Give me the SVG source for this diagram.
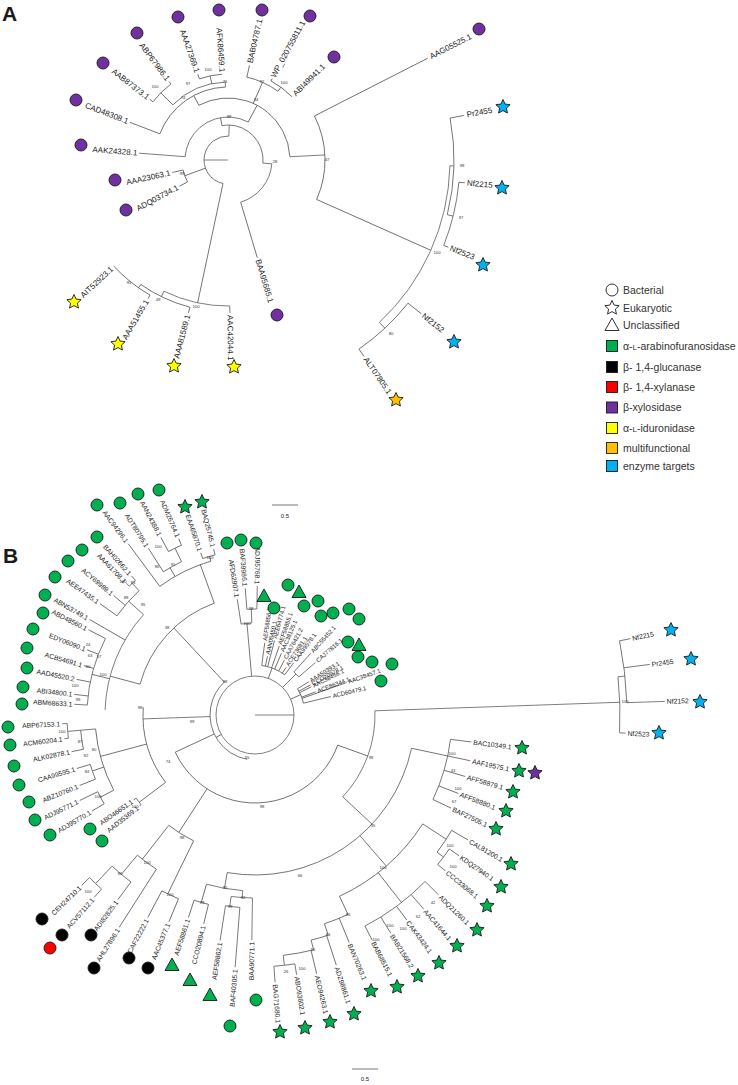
<svg xmlns="http://www.w3.org/2000/svg" width="738" height="1085" viewBox="0 0 738 1085">
<style>
.t{fill:none;stroke:#555;stroke-width:.75}
.t circle{fill:none}
text{font-family:"Liberation Sans",Arial,sans-serif;fill:#1a1a1a}
.lab text{dominant-baseline:central}
.fa{font-size:8px}
.fb{font-size:6.8px}
.fu{font-size:6px}
.e{text-anchor:end}
.bs text{font-size:4.2px;fill:#333;text-anchor:middle}
.s{stroke:#1a1a1a;stroke-width:.9}
.pu{fill:#7030A0}.gr{fill:#00B050}.ye{fill:#FFFF00}.bl{fill:#00B0F0}.or{fill:#FFC000}.rd{fill:#FF0000}.bk{fill:#000}.wh{fill:#fff}
.lg text{font-size:10.5px;fill:#333}
</style>
<defs>
<circle id="c" r="6"/>
<path id="s" d="M0,-7.5 L2.12,-2.91 L7.13,-2.32 L3.42,1.11 L4.41,6.07 L0,3.6 L-4.41,6.07 L-3.42,1.11 L-7.13,-2.32 L-2.12,-2.91Z"/>
<path id="tr" d="M0,-7 L7,5.5 L-7,5.5Z"/>
</defs>
<rect width="738" height="1085" fill="#fff"/>
<text x="2" y="21" font-size="21" font-weight="bold" fill="#000">A</text>
<text x="3" y="563" font-size="21" font-weight="bold" fill="#000">B</text>

<g id="A-connectors" class="t" transform="translate(228 160)">
<line x1="-24" x2="0"/>
<circle r="24" pathLength="360" stroke-dasharray="170 400" transform="rotate(102)"/>
<line x1="24" x2="35" transform="rotate(-88)"/>
<circle r="35" pathLength="360" stroke-dasharray="105 400" transform="rotate(-100)"/>
<line x1="35" x2="43" transform="rotate(-100)"/>
<circle r="43" pathLength="360" stroke-dasharray="113.6 400" transform="rotate(184.4)"/>
<line x1="43" x2="89" transform="rotate(184.4)"/>
<line x1="24" x2="46" transform="rotate(160)"/>
<circle r="46" pathLength="360" stroke-dasharray="15.8 400" transform="rotate(151.6)"/>
<line x1="46" x2="55" transform="rotate(151.6)"/>
<line x1="46" x2="57" transform="rotate(167.4)"/>
<line x1="35" x2="44" transform="rotate(5)"/>
<circle r="44" pathLength="360" stroke-dasharray="68.3 400" transform="rotate(5)"/>
<line x1="44" x2="102" transform="rotate(73.3)"/>
<line x1="43" x2="62" transform="rotate(-62)"/>
<circle r="62" pathLength="360" stroke-dasharray="115 400" transform="rotate(-118)"/>
<line x1="62" x2="97" transform="rotate(-3)"/>
<circle r="97" pathLength="360" stroke-dasharray="51 400" transform="rotate(-27)"/>
<line x1="97" x2="224" transform="rotate(-27)"/>
<line x1="97" x2="222" transform="rotate(24)"/>
<circle r="222" pathLength="360" stroke-dasharray="45.5 400" transform="rotate(1.5)"/>
<line x1="222" x2="226" transform="rotate(1.5)"/>
<circle r="226" pathLength="360" stroke-dasharray="24.7 400" transform="rotate(-10.7)"/>
<line x1="226" x2="240" transform="rotate(-10.7)"/>
<line x1="226" x2="232" transform="rotate(14)"/>
<circle r="232" pathLength="360" stroke-dasharray="16.1 400" transform="rotate(5.5)"/>
<line x1="232" x2="238" transform="rotate(5.5)"/>
<line x1="232" x2="237" transform="rotate(21.6)"/>
<line x1="222" x2="230" transform="rotate(47)"/>
<circle r="230" pathLength="360" stroke-dasharray="16.8 400" transform="rotate(38.5)"/>
<line x1="230" x2="247" transform="rotate(38.5)"/>
<line x1="230" x2="239" transform="rotate(55.3)"/>
<line x1="62" x2="85" transform="rotate(-66)"/>
<circle r="85" pathLength="360" stroke-dasharray="23.2 400" transform="rotate(-77.2)"/>
<line x1="85" x2="97" transform="rotate(-77.2)"/>
<line x1="85" x2="90" transform="rotate(-54)"/>
<circle r="90" pathLength="360" stroke-dasharray="16.9 400" transform="rotate(-61.5)"/>
<line x1="90" x2="92.5" transform="rotate(-61.5)"/>
<line x1="62" x2="73" transform="rotate(-118)"/>
<circle r="73" pathLength="360" stroke-dasharray="67 400" transform="rotate(-159)"/>
<line x1="73" x2="105" transform="rotate(-159)"/>
<line x1="73" x2="78" transform="rotate(-92)"/>
<circle r="78" pathLength="360" stroke-dasharray="43 400" transform="rotate(-135)"/>
<line x1="78" x2="95" transform="rotate(-135)"/>
<circle r="95" pathLength="360" stroke-dasharray="15.3 400" transform="rotate(-142.2)"/>
<line x1="95" x2="99" transform="rotate(-142.2)"/>
<line x1="95" x2="98" transform="rotate(-126.9)"/>
<line x1="78" x2="86" transform="rotate(-102)"/>
<circle r="86" pathLength="360" stroke-dasharray="15.5 400" transform="rotate(-109.4)"/>
<line x1="86" x2="91" transform="rotate(-109.4)"/>
<line x1="24" x2="146" transform="rotate(102)"/>
<circle r="146" pathLength="360" stroke-dasharray="26.7 400" transform="rotate(89.3)"/>
<line x1="146" x2="153" transform="rotate(89.3)"/>
<line x1="146" x2="152" transform="rotate(116)"/>
<circle r="152" pathLength="360" stroke-dasharray="20.5 400" transform="rotate(104.5)"/>
<line x1="152" x2="158" transform="rotate(104.5)"/>
<line x1="152" x2="156" transform="rotate(125)"/>
<circle r="156" pathLength="360" stroke-dasharray="17 400" transform="rotate(120)"/>
<line x1="156" x2="160" transform="rotate(120)"/>
</g>

<g id="A-leaves" class="lab fa" transform="translate(228 160)">
<g id="A-AAG05525"><text transform="rotate(-27) translate(227 0)">AAG05525.1</text><use href="#c" x="251" y="-131" class="s pu"/></g>
<g id="A-BAB04787"><text transform="rotate(-77.2) translate(99.5 0)">BAB04787.1</text><use href="#c" x="34" y="-150" class="s pu"/></g>
<g id="A-WP020755811"><text transform="rotate(-61.5) translate(94.4 0)">WP_020755811.1</text><use href="#c" x="82" y="-144" class="s pu"/></g>
<g id="A-ABI49941"><text transform="rotate(-44.6) translate(93 0)">ABI49941.1</text><use href="#c" x="106" y="-103" class="s pu"/></g>
<g id="A-AFK86459"><text class="e" transform="rotate(-93.9) translate(88 0) rotate(180)">AFK86459.1</text><use href="#c" x="-9" y="-150" class="s pu"/></g>
<g id="A-AAA27369"><text class="e" transform="rotate(-109.4) translate(93 0) rotate(180)">AAA27369.1</text><use href="#c" x="-50" y="-143" class="s pu"/></g>
<g id="A-ABP67986"><text class="e" transform="rotate(-126.9) translate(100 0) rotate(180)">ABP67986.1</text><use href="#c" x="-91" y="-127" class="s pu"/></g>
<g id="A-AAB87373"><text class="e" transform="rotate(-142.2) translate(101 0) rotate(180)">AAB87373.1</text><use href="#c" x="-125" y="-97" class="s pu"/></g>
<g id="A-CAD48308"><text class="e" transform="rotate(-159) translate(107 0) rotate(180)">CAD48308.1</text><use href="#c" x="-152" y="-60" class="s pu"/></g>
<g id="A-AAK24328"><text class="e" transform="rotate(184.4) translate(91 0) rotate(180)">AAK24328.1</text><use href="#c" x="-147" y="-15" class="s pu"/></g>
<g id="A-AAA23063"><text class="e" transform="rotate(167.4) translate(59 0) rotate(180)">AAA23063.1</text><use href="#c" x="-113" y="20" class="s pu"/></g>
<g id="A-ADQ03734"><text class="e" transform="rotate(151.6) translate(57 0) rotate(180)">ADQ03734.1</text><use href="#c" x="-102" y="50" class="s pu"/></g>
<g id="A-BAA95685"><text transform="rotate(73.3) translate(104 0)">BAA95685.1</text><use href="#c" x="49" y="155" class="s pu"/></g>
<g id="A-AIT52923"><text class="e" transform="rotate(137) translate(158.5 0) rotate(180)">AIT52923.1</text><use href="#s" x="-154" y="142" class="s ye"/></g>
<g id="A-AAA51455"><text class="e" transform="rotate(120) translate(162 0) rotate(180)">AAA51455.1</text><use href="#s" x="-110" y="184" class="s ye"/></g>
<g id="A-AAA81589"><text class="e" transform="rotate(104.5) translate(160 0) rotate(180)">AAA81589.1</text><use href="#s" x="-54" y="206" class="s ye"/></g>
<g id="A-AAC42044"><text transform="rotate(89.3) translate(155 0)">AAC42044.1</text><use href="#s" x="6" y="207" class="s ye"/></g>
<g id="A-Pr2455"><text transform="rotate(-10.7) translate(243 0)">Pr2455</text><use href="#s" x="275" y="-53" class="s bl"/></g>
<g id="A-Nf2215"><text transform="rotate(5.5) translate(240 0)">Nf2215</text><use href="#s" x="274" y="28" class="s bl"/></g>
<g id="A-Nf2523"><text transform="rotate(21.6) translate(239 0)">Nf2523</text><use href="#s" x="255" y="105" class="s bl"/></g>
<g id="A-Nf2152"><text transform="rotate(38.5) translate(249 0)">Nf2152</text><use href="#s" x="226" y="182" class="s bl"/></g>
<g id="A-ALT07805"><text transform="rotate(55.3) translate(241 0)">ALT07805.1</text><use href="#s" x="168" y="240" class="s or"/></g>
</g>

<g id="A-support" class="bs">
<text x="229" y="118">88</text><text x="275" y="163">28</text><text x="256" y="101">94</text><text x="327" y="161">47</text>
<text x="262" y="83">97</text><text x="284" y="84">100</text><text x="225" y="83">76</text><text x="183" y="99">74</text>
<text x="188" y="85">97</text><text x="208" y="71">100</text><text x="155" y="88">100</text><text x="182" y="175">99</text>
<text x="129" y="284">91</text><text x="158" y="301">49</text><text x="196" y="308">100</text><text x="437" y="254">100</text>
<text x="462" y="167">98</text><text x="461" y="219">97</text><text x="391" y="335">80</text>
</g>

<g id="A-scale"><line x1="272" y1="505" x2="298" y2="505" stroke="#555" stroke-width=".8"/><text x="285" y="518" font-size="6" text-anchor="middle">0.5</text></g>

<g id="legend" class="lg">
<g id="lg-bacterial"><circle cx="612" cy="290" r="6" class="s wh"/><text x="623" y="294">Bacterial</text></g>
<g id="lg-eukaryotic"><use href="#s" x="612" y="308" class="s wh"/><text x="623" y="312">Eukaryotic</text></g>
<g id="lg-unclassified"><use href="#tr" x="612" y="325" class="s wh"/><text x="623" y="329">Unclassified</text></g>
<g id="lg-arabino"><rect x="606.5" y="340.5" width="11" height="11" class="s gr"/><text x="623" y="350">α-<tspan font-size="8">L</tspan>-arabinofuranosidase</text></g>
<g id="lg-glucanase"><rect x="606.5" y="361.5" width="11" height="11" class="s bk"/><text x="623" y="371">β- 1,4-glucanase</text></g>
<g id="lg-xylanase"><rect x="606.5" y="381.5" width="11" height="11" class="s rd"/><text x="623" y="391">β- 1,4-xylanase</text></g>
<g id="lg-xylosidase"><rect x="606.5" y="402" width="11" height="11" class="s pu"/><text x="623" y="411">β-xylosidase</text></g>
<g id="lg-iduronidase"><rect x="606.5" y="422.5" width="11" height="11" class="s ye"/><text x="623" y="432">α-<tspan font-size="8">L</tspan>-iduronidase</text></g>
<g id="lg-multi"><rect x="606.5" y="442.5" width="11" height="11" class="s or"/><text x="623" y="452">multifunctional</text></g>
<g id="lg-targets"><rect x="606.5" y="460.5" width="11" height="11" class="s bl"/><text x="623" y="470">enzyme targets</text></g>
</g>

<g id="B-connectors" class="t" transform="translate(255 715)">
<line x1="0" x2="39"/>
<circle r="39"/>
<circle r="45" pathLength="360" stroke-dasharray="128 400" transform="rotate(100)"/>
<line x1="39" x2="45" transform="rotate(150)"/>
<line x1="45" x2="119" transform="rotate(-133)"/>
<circle r="119" pathLength="360" stroke-dasharray="55 400" transform="rotate(-165)"/>
<line x1="119" x2="150" transform="rotate(-165)"/>
<circle r="150" pathLength="360" stroke-dasharray="40 400" transform="rotate(-178)"/>
<line x1="150" x2="191" transform="rotate(-150)"/>
<line x1="150" x2="168" transform="rotate(-166)"/>
<circle r="168" pathLength="360" stroke-dasharray="23.7 400" transform="rotate(-176.6)"/>
<line x1="168" x2="187" transform="rotate(-152.9)"/>
<line x1="168" x2="180" transform="rotate(-158.8)"/>
<line x1="168" x2="178" transform="rotate(-163.9)"/>
<line x1="168" x2="182" transform="rotate(-168.7)"/>
<line x1="168" x2="182" transform="rotate(-173.5)"/>
<line x1="168" x2="181" transform="rotate(-176.6)"/>
<line x1="150" x2="170" transform="rotate(-138)"/>
<circle r="170" pathLength="360" stroke-dasharray="11.3 400" transform="rotate(-144.3)"/>
<line x1="170" x2="191" transform="rotate(-144.3)"/>
<line x1="170" x2="185" transform="rotate(-139.8)"/>
<line x1="170" x2="180" transform="rotate(-133)"/>
<circle r="180" pathLength="360" stroke-dasharray="2.7 400" transform="rotate(-134.3)"/>
<line x1="180" x2="186" transform="rotate(-131.6)"/>
<line x1="180" x2="184" transform="rotate(-134.3)"/>
<line x1="119" x2="160" transform="rotate(-110)"/>
<circle r="160" pathLength="360" stroke-dasharray="20.5 400" transform="rotate(-126.5)"/>
<line x1="160" x2="213" transform="rotate(-126.5)"/>
<line x1="160" x2="170" transform="rotate(-120)"/>
<circle r="170" pathLength="360" stroke-dasharray="7 400" transform="rotate(-122.6)"/>
<line x1="170" x2="198" transform="rotate(-122.6)"/>
<line x1="170" x2="185" transform="rotate(-115.6)"/>
<circle r="185" pathLength="360" stroke-dasharray="4.5 400" transform="rotate(-117.9)"/>
<line x1="185" x2="201" transform="rotate(-117.9)"/>
<line x1="185" x2="192" transform="rotate(-113.4)"/>
<line x1="160" x2="165" transform="rotate(-106)"/>
<circle r="165" pathLength="360" stroke-dasharray="4.5 400" transform="rotate(-108.5)"/>
<line x1="165" x2="171" transform="rotate(-108.5)"/>
<line x1="165" x2="171" transform="rotate(-104)"/>
<line x1="39" x2="92" transform="rotate(-95)"/>
<circle r="92" pathLength="360" stroke-dasharray="6.7 400" transform="rotate(-98.7)"/>
<line x1="92" x2="117" transform="rotate(-98.7)"/>
<line x1="92" x2="106" transform="rotate(-92)"/>
<circle r="106" pathLength="360" stroke-dasharray="5.4 400" transform="rotate(-94.4)"/>
<line x1="106" x2="127" transform="rotate(-94.4)"/>
<line x1="106" x2="129" transform="rotate(-89)"/>
<line x1="39" x2="50" transform="rotate(-70)"/>
<circle r="50" pathLength="360" stroke-dasharray="28.8 400" transform="rotate(-82.3)"/>
<line x1="50" x2="73" transform="rotate(-82.3)"/>
<line x1="50" x2="60" transform="rotate(-78)"/>
<line x1="50" x2="77" transform="rotate(-75.3)"/>
<line x1="50" x2="73" transform="rotate(-70.6)"/>
<line x1="50" x2="67" transform="rotate(-66.8)"/>
<line x1="50" x2="62" transform="rotate(-61.8)"/>
<line x1="50" x2="57" transform="rotate(-56.9)"/>
<line x1="50" x2="65" transform="rotate(-53.5)"/>
<line x1="39" x2="58" transform="rotate(-45)"/>
<circle r="58" pathLength="360" stroke-dasharray="6.9 400" transform="rotate(-47.9)"/>
<line x1="58" x2="83" transform="rotate(-47.9)"/>
<line x1="58" x2="80" transform="rotate(-41)"/>
<line x1="39" x2="50" transform="rotate(-24)"/>
<circle r="50" pathLength="360" stroke-dasharray="18 400" transform="rotate(-31.7)"/>
<line x1="50" x2="63" transform="rotate(-31.7)"/>
<line x1="50" x2="63" transform="rotate(-28.5)"/>
<line x1="50" x2="63" transform="rotate(-26.6)"/>
<line x1="50" x2="65" transform="rotate(-20.9)"/>
<line x1="50" x2="97" transform="rotate(-19.5)"/>
<line x1="50" x2="78" transform="rotate(-13.7)"/>
<line x1="45" x2="88" transform="rotate(155)"/>
<circle r="88" pathLength="360" stroke-dasharray="135 400" transform="rotate(20)"/>
<line x1="45" x2="112" transform="rotate(178)"/>
<circle r="112" pathLength="360" stroke-dasharray="41 400" transform="rotate(143)"/>
<line x1="88" x2="120" transform="rotate(20)"/>
<circle r="120" pathLength="360" stroke-dasharray="45 400" transform="rotate(-2)"/>
<line x1="120" x2="365" transform="rotate(-2)"/>
<circle r="365" pathLength="360" stroke-dasharray="8.8 400" transform="rotate(-6)"/>
<line x1="365" x2="371" transform="rotate(2.8)"/>
<line x1="365" x2="372" transform="rotate(-6)"/>
<circle r="372" pathLength="360" stroke-dasharray="9.6 400" transform="rotate(-11.5)"/>
<line x1="372" x2="410" transform="rotate(-1.9)"/>
<line x1="372" x2="398" transform="rotate(-7.3)"/>
<line x1="372" x2="383" transform="rotate(-11.5)"/>
<line x1="120" x2="160" transform="rotate(43)"/>
<circle r="160" pathLength="360" stroke-dasharray="88 400" transform="rotate(12)"/>
<line x1="160" x2="197" transform="rotate(12)"/>
<circle r="197" pathLength="360" stroke-dasharray="18.3 400" transform="rotate(7.1)"/>
<line x1="197" x2="218" transform="rotate(7.1)"/>
<line x1="197" x2="220" transform="rotate(12)"/>
<line x1="197" x2="219" transform="rotate(16.3)"/>
<line x1="197" x2="218" transform="rotate(21.1)"/>
<line x1="197" x2="217" transform="rotate(25.4)"/>
<line x1="160" x2="200" transform="rotate(49)"/>
<circle r="200" pathLength="360" stroke-dasharray="32 400" transform="rotate(33)"/>
<line x1="200" x2="228" transform="rotate(33)"/>
<circle r="228" pathLength="360" stroke-dasharray="6.6 400" transform="rotate(30.4)"/>
<line x1="228" x2="247" transform="rotate(30.4)"/>
<line x1="228" x2="236" transform="rotate(37)"/>
<circle r="236" pathLength="360" stroke-dasharray="4.7 400" transform="rotate(34.6)"/>
<line x1="236" x2="248" transform="rotate(34.6)"/>
<line x1="236" x2="246" transform="rotate(39.3)"/>
<line x1="200" x2="238" transform="rotate(52)"/>
<circle r="238" pathLength="360" stroke-dasharray="18.1 400" transform="rotate(44.4)"/>
<line x1="238" x2="257" transform="rotate(44.4)"/>
<line x1="238" x2="257" transform="rotate(49)"/>
<line x1="238" x2="255" transform="rotate(53.5)"/>
<line x1="238" x2="257" transform="rotate(58.1)"/>
<line x1="238" x2="254" transform="rotate(62.5)"/>
<line x1="200" x2="220" transform="rotate(65)"/>
<circle r="220" pathLength="360" stroke-dasharray="6.6 400" transform="rotate(65)"/>
<line x1="220" x2="246" transform="rotate(67.5)"/>
<line x1="220" x2="232" transform="rotate(71.6)"/>
<circle r="232" pathLength="360" stroke-dasharray="4.4 400" transform="rotate(71.6)"/>
<line x1="232" x2="263" transform="rotate(72)"/>
<line x1="232" x2="242" transform="rotate(76)"/>
<circle r="242" pathLength="360" stroke-dasharray="7.3 400" transform="rotate(76)"/>
<line x1="242" x2="266" transform="rotate(76.6)"/>
<line x1="242" x2="252" transform="rotate(83.3)"/>
<circle r="252" pathLength="360" stroke-dasharray="4.8 400" transform="rotate(80.9)"/>
<line x1="252" x2="263" transform="rotate(80.9)"/>
<line x1="252" x2="268" transform="rotate(85.7)"/>
<line x1="160" x2="176" transform="rotate(100)"/>
<circle r="176" pathLength="360" stroke-dasharray="12 400" transform="rotate(94)"/>
<line x1="176" x2="195" transform="rotate(106)"/>
<circle r="195" pathLength="360" stroke-dasharray="4.4 400" transform="rotate(103.8)"/>
<line x1="195" x2="215" transform="rotate(103.8)"/>
<line x1="195" x2="213" transform="rotate(108.2)"/>
<line x1="176" x2="183" transform="rotate(94)"/>
<circle r="183" pathLength="360" stroke-dasharray="6.7 400" transform="rotate(90.8)"/>
<line x1="183" x2="225" transform="rotate(90.8)"/>
<line x1="183" x2="193" transform="rotate(97.5)"/>
<circle r="193" pathLength="360" stroke-dasharray="4.3 400" transform="rotate(94.5)"/>
<line x1="193" x2="228" transform="rotate(98.8)"/>
<line x1="193" x2="253" transform="rotate(94.5)"/>
<line x1="88" x2="140" transform="rotate(123)"/>
<circle r="140" pathLength="360" stroke-dasharray="12 400" transform="rotate(116)"/>
<line x1="140" x2="183" transform="rotate(128)"/>
<circle r="183" pathLength="360" stroke-dasharray="7.4 400" transform="rotate(122.6)"/>
<line x1="183" x2="252" transform="rotate(122.6)"/>
<line x1="183" x2="208" transform="rotate(130)"/>
<circle r="208" pathLength="360" stroke-dasharray="6.8 400" transform="rotate(126.6)"/>
<line x1="208" x2="230" transform="rotate(126.6)"/>
<line x1="208" x2="232" transform="rotate(133.4)"/>
<circle r="232" pathLength="360" stroke-dasharray="4.1 400" transform="rotate(131.4)"/>
<line x1="232" x2="243" transform="rotate(131.4)"/>
<line x1="232" x2="243" transform="rotate(135.5)"/>
<line x1="140" x2="199" transform="rotate(116)"/>
<circle r="199" pathLength="360" stroke-dasharray="5.3 400" transform="rotate(112.6)"/>
<line x1="199" x2="224" transform="rotate(112.6)"/>
<line x1="199" x2="229" transform="rotate(117.9)"/>
<line x1="112" x2="145" transform="rotate(143)"/>
<circle r="145" pathLength="360" stroke-dasharray="3.2 400" transform="rotate(141.8)"/>
<line x1="145" x2="148" transform="rotate(145)"/>
<line x1="145" x2="147" transform="rotate(141.8)"/>
<line x1="112" x2="160" transform="rotate(165)"/>
<circle r="160" pathLength="360" stroke-dasharray="23 400" transform="rotate(152)"/>
<line x1="160" x2="175" transform="rotate(175)"/>
<circle r="175" pathLength="360" stroke-dasharray="6.3 400" transform="rotate(168.7)"/>
<line x1="175" x2="187" transform="rotate(168.7)"/>
<line x1="175" x2="188" transform="rotate(175)"/>
<circle r="188" pathLength="360" stroke-dasharray="4.5 400" transform="rotate(172.9)"/>
<line x1="188" x2="193" transform="rotate(177.4)"/>
<line x1="188" x2="192" transform="rotate(172.9)"/>
<line x1="160" x2="172" transform="rotate(161)"/>
<circle r="172" pathLength="360" stroke-dasharray="5.2 400" transform="rotate(158.1)"/>
<line x1="172" x2="186" transform="rotate(163.3)"/>
<line x1="172" x2="189" transform="rotate(158.1)"/>
<line x1="160" x2="175" transform="rotate(152)"/>
<circle r="175" pathLength="360" stroke-dasharray="4.5 400" transform="rotate(149.5)"/>
<line x1="175" x2="195" transform="rotate(154)"/>
<line x1="175" x2="189" transform="rotate(149.5)"/>
</g>

<g id="B-leaves" class="lab fb" transform="translate(255 715)">
<g id="B-AAC94296"><text class="e" transform="rotate(-126.5) translate(215 0) rotate(180)">AAC94296.1</text><use href="#c" x="-158" y="-210" class="s gr"/></g>
<g id="B-ADT80795"><text class="e" transform="rotate(-122.6) translate(200 0) rotate(180)">ADT80795.1</text><use href="#c" x="-135" y="-212" class="s gr"/></g>
<g id="B-AAN24388"><text class="e" transform="rotate(-117.9) translate(203 0) rotate(180)">AAN24388.1</text><use href="#c" x="-117" y="-221" class="s gr"/></g>
<g id="B-ADM26764"><text class="e" transform="rotate(-113.4) translate(194 0) rotate(180)">ADM26764.1</text><use href="#c" x="-96" y="-225" class="s gr"/></g>
<g id="B-EAA65870"><text class="e" transform="rotate(-108.5) translate(173 0) rotate(180)">EAA65870.1</text><use href="#s" x="-70" y="-208" class="s gr"/></g>
<g id="B-BAQ25745"><text class="e" transform="rotate(-104) translate(173 0) rotate(180)">BAQ25745.1</text><use href="#s" x="-53" y="-213" class="s gr"/></g>
<g id="B-AFD62907"><text class="e" transform="rotate(-98.7) translate(119 0) rotate(180)">AFD62907.1</text><use href="#c" x="-28" y="-172" class="s gr"/></g>
<g id="B-BAF39986"><text class="e" transform="rotate(-94.4) translate(129 0) rotate(180)">BAF39986.1</text><use href="#c" x="-14" y="-175" class="s gr"/></g>
<g id="B-ADJ95768"><text class="e" transform="rotate(-89) translate(131 0) rotate(180)">ADJ95768.1</text><use href="#c" x="1" y="-172" class="s gr"/></g>
<g id="B-BAH02662"><text class="e" transform="rotate(-131.6) translate(188 0) rotate(180)">BAH02662.1</text><use href="#c" x="-158" y="-178" class="s gr"/></g>
<g id="B-AAA61708"><text class="e" transform="rotate(-134.3) translate(186 0) rotate(180)">AAA61708.1</text><use href="#c" x="-173" y="-165" class="s gr"/></g>
<g id="B-ACY69989"><text class="e" transform="rotate(-139.8) translate(187 0) rotate(180)">ACY69989.1</text><use href="#c" x="-187" y="-154" class="s gr"/></g>
<g id="B-AEE47435"><text class="e" transform="rotate(-144.3) translate(193 0) rotate(180)">AEE47435.1</text><use href="#c" x="-200" y="-138" class="s gr"/></g>
<g id="B-ABN53749"><text class="e" transform="rotate(-150) translate(193 0) rotate(180)">ABN53749.1</text><use href="#c" x="-210" y="-120" class="s gr"/></g>
<g id="B-ABD48560"><text class="e" transform="rotate(-152.9) translate(189 0) rotate(180)">ABD48560.1</text><use href="#c" x="-212" y="-102" class="s gr"/></g>
<g id="B-EDY06090"><text class="e" transform="rotate(-158.8) translate(182 0) rotate(180)">EDY06090.1</text><use href="#c" x="-222" y="-86" class="s gr"/></g>
<g id="B-ACB54691"><text class="e" transform="rotate(-163.9) translate(180 0) rotate(180)">ACB54691.1</text><use href="#c" x="-228" y="-67" class="s gr"/></g>
<g id="B-AAD45520"><text class="e" transform="rotate(-168.7) translate(184 0) rotate(180)">AAD45520.2</text><use href="#c" x="-228" y="-47" class="s gr"/></g>
<g id="B-ABI34800"><text class="e" transform="rotate(-173.5) translate(184 0) rotate(180)">ABI34800.1</text><use href="#c" x="-232" y="-28" class="s gr"/></g>
<g id="B-ABM68633"><text class="e" transform="rotate(-176.6) translate(183 0) rotate(180)">ABM68633.1</text><use href="#c" x="-233" y="-11" class="s gr"/></g>
<g id="B-ABP67153"><text class="e" transform="rotate(177.4) translate(195 0) rotate(180)">ABP67153.1</text><use href="#c" x="-247" y="12" class="s gr"/></g>
<g id="B-ACM60204"><text class="e" transform="rotate(172.9) translate(194 0) rotate(180)">ACM60204.1</text><use href="#c" x="-245" y="30" class="s gr"/></g>
<g id="B-ALK02878"><text class="e" transform="rotate(168.7) translate(189 0) rotate(180)">ALK02878.1</text><use href="#c" x="-241" y="51" class="s gr"/></g>
<g id="B-CAA99595"><text class="e" transform="rotate(163.3) translate(188 0) rotate(180)">CAA99595.1</text><use href="#c" x="-236" y="70" class="s gr"/></g>
<g id="B-ABZ10760"><text class="e" transform="rotate(158.1) translate(191 0) rotate(180)">ABZ10760.1</text><use href="#c" x="-226" y="87" class="s gr"/></g>
<g id="B-ADJ95771"><text class="e" transform="rotate(154) translate(197 0) rotate(180)">ADJ95771.1</text><use href="#c" x="-220" y="105" class="s gr"/></g>
<g id="B-ADJ95770"><text class="e" transform="rotate(149.5) translate(191 0) rotate(180)">ADJ95770.1</text><use href="#c" x="-205" y="120" class="s gr"/></g>
<g id="B-ABO46651"><text class="e" transform="rotate(145) translate(150 0) rotate(180)">ABO46651.1</text><use href="#c" x="-165" y="114" class="s gr"/></g>
<g id="B-AAD35369"><text class="e" transform="rotate(141.8) translate(149 0) rotate(180)">AAD35369.1</text><use href="#c" x="-153" y="126" class="s gr"/></g>
<g id="B-CEH24710"><text class="e" transform="rotate(135.5) translate(245 0) rotate(180)">CEH24710.1</text><use href="#c" x="-213" y="204" class="s bk"/></g>
<g id="B-ACV57112"><text class="e" transform="rotate(131.4) translate(245 0) rotate(180)">ACV57112.1</text><use href="#c" x="-193" y="220" class="s bk"/><use href="#c" x="-205" y="233" class="s rd"/></g>
<g id="B-ADI82825"><text class="e" transform="rotate(126.6) translate(232 0) rotate(180)">ADI82825.1</text><use href="#c" x="-164" y="220" class="s bk"/></g>
<g id="B-AHL27896"><text class="e" transform="rotate(122.6) translate(254 0) rotate(180)">AHL27896.1</text><use href="#c" x="-161" y="253" class="s bk"/></g>
<g id="B-CAF22222"><text class="e" transform="rotate(117.9) translate(231 0) rotate(180)">CAF22222.1</text><use href="#c" x="-126" y="243" class="s bk"/></g>
<g id="B-AAC45377"><text class="e" transform="rotate(112.6) translate(226 0) rotate(180)">AAC45377.1</text><use href="#c" x="-107" y="253" class="s bk"/></g>
<g id="B-AEF58861"><text class="e" transform="rotate(108.2) translate(215 0) rotate(180)">AEF58861.1</text><use href="#tr" x="-83" y="250" class="s gr"/></g>
<g id="B-CCO20894"><text class="e" transform="rotate(103.8) translate(217 0) rotate(180)">CCO20894.1</text><use href="#tr" x="-65" y="265" class="s gr"/></g>
<g id="B-AEF58862"><text class="e" transform="rotate(98.8) translate(230 0) rotate(180)">AEF58862.1</text><use href="#tr" x="-45" y="280" class="s gr"/></g>
<g id="B-BAF40305"><text class="e" transform="rotate(94.5) translate(255 0) rotate(180)">BAF40305.1</text><use href="#c" x="-25" y="311" class="s gr"/></g>
<g id="B-BAA90771"><text class="e" transform="rotate(90.8) translate(227 0) rotate(180)">BAA90771.1</text><use href="#c" x="1" y="285" class="s gr"/></g>
<g id="B-BAG71680"><text transform="rotate(85.7) translate(270 0)">BAG71680.1</text><use href="#s" x="25" y="317" class="s gr"/></g>
<g id="B-ABO93602"><text transform="rotate(80.9) translate(265 0)">ABO93602.1</text><use href="#s" x="50" y="313" class="s gr"/></g>
<g id="B-AEO94263"><text transform="rotate(76.6) translate(268 0)">AEO94263.1</text><use href="#s" x="75" y="307" class="s gr"/></g>
<g id="B-ADZ98861"><text transform="rotate(72) translate(265 0)">ADZ98861.1</text><use href="#s" x="99" y="299" class="s gr"/></g>
<g id="B-BAN70263"><text transform="rotate(67.5) translate(248 0)">BAN70263.1</text><use href="#s" x="116" y="276" class="s gr"/></g>
<g id="B-BAB68515"><text transform="rotate(62.5) translate(256 0)">BAB68515.1</text><use href="#s" x="142" y="272" class="s gr"/></g>
<g id="B-BAB21568"><text transform="rotate(58.1) translate(259 0)">BAB21568.2</text><use href="#s" x="163" y="261" class="s gr"/></g>
<g id="B-CAK43424"><text transform="rotate(53.5) translate(257 0)">CAK43424.1</text><use href="#s" x="184" y="248" class="s gr"/></g>
<g id="B-AAC41644"><text transform="rotate(49) translate(259 0)">AAC41644.1</text><use href="#s" x="202" y="231" class="s gr"/></g>
<g id="B-ADQ21260"><text transform="rotate(44.4) translate(259 0)">ADQ21260.1</text><use href="#s" x="222" y="215" class="s gr"/></g>
<g id="B-CCC33068"><text transform="rotate(39.3) translate(248 0)">CCC33068.1</text><use href="#s" x="232" y="191" class="s gr"/></g>
<g id="B-KDQ27940"><text transform="rotate(34.6) translate(250 0)">KDQ27940.1</text><use href="#s" x="246" y="172" class="s gr"/></g>
<g id="B-CAL81200"><text transform="rotate(30.4) translate(249 0)">CAL81200.1</text><use href="#s" x="256" y="149" class="s gr"/></g>
<g id="B-BAF27505"><text transform="rotate(25.4) translate(219 0)">BAF27505.1</text><use href="#s" x="241" y="114" class="s gr"/></g>
<g id="B-AFF58880"><text transform="rotate(21.1) translate(220 0)">AFF58880.1</text><use href="#s" x="251" y="96" class="s gr"/></g>
<g id="B-AFF58879"><text transform="rotate(16.3) translate(221 0)">AFF58879.1</text><use href="#s" x="258" y="77" class="s gr"/></g>
<g id="B-AAF19575"><text transform="rotate(12) translate(222 0)">AAF19575.1</text><use href="#s" x="264" y="56" class="s gr"/><use href="#s" x="280" y="58" class="s pu"/></g>
<g id="B-BAC10349"><text transform="rotate(7.1) translate(220 0)">BAC10349.1</text><use href="#s" x="267" y="33" class="s gr"/></g>
<g id="B-Nf2523"><text transform="rotate(2.8) translate(373 0)">Nf2523</text><use href="#s" x="404" y="18" class="s bl"/></g>
<g id="B-Nf2152"><text transform="rotate(-1.9) translate(412 0)">Nf2152</text><use href="#s" x="445" y="-13" class="s bl"/></g>
<g id="B-Pr2455"><text transform="rotate(-7.3) translate(400 0)">Pr2455</text><use href="#s" x="436" y="-56" class="s bl"/></g>
<g id="B-Nf2215"><text transform="rotate(-11.5) translate(385 0)">Nf2215</text><use href="#s" x="416" y="-85" class="s bl"/></g>
<g class="fu">
<g id="B-AEF58856"><text transform="rotate(-82.3) translate(75 0)">AEF58856.1</text><use href="#tr" x="9" y="-119" class="s gr"/></g>
<g id="B-AAN05450"><text transform="rotate(-78) translate(62 0)">AAN05450.1</text><use href="#c" x="19" y="-107" class="s gr"/></g>
<g id="B-AEE64774"><text transform="rotate(-75.3) translate(79 0)">AEE64774.1</text><use href="#c" x="33" y="-130" class="s gr"/></g>
<g id="B-AEF58855"><text transform="rotate(-70.6) translate(75 0)">AEF58855.1</text><use href="#tr" x="44" y="-123" class="s gr"/></g>
<g id="B-AAC38125"><text transform="rotate(-66.8) translate(69 0)">AAC38125.1</text><use href="#c" x="49" y="-109" class="s gr"/></g>
<g id="B-CAA76421"><text transform="rotate(-61.8) translate(64 0)">CAA76421.2</text><use href="#c" x="63" y="-114" class="s gr"/></g>
<g id="B-ACE73681"><text transform="rotate(-56.9) translate(59 0)">ACE73681.1</text><use href="#c" x="66" y="-99" class="s gr"/></g>
<g id="B-CAA99578"><text transform="rotate(-53.5) translate(67 0)">CAA99578.1</text><use href="#c" x="78" y="-102" class="s gr"/></g>
<g id="B-ABC55452"><text transform="rotate(-47.9) translate(85 0)">ABC55452.1</text><use href="#c" x="94" y="-106" class="s gr"/></g>
<g id="B-CAJ77816"><text transform="rotate(-41) translate(82 0)">CAJ77816.1</text><use href="#c" x="104" y="-96" class="s gr"/></g>
<g id="B-AAA50393"><text transform="rotate(-31.7) translate(65 0)">AAA50393.1</text><use href="#c" x="93" y="-73" class="s gr"/></g>
<g id="B-CCO20978"><text transform="rotate(-28.5) translate(65 0)">CCO20978.1</text><use href="#tr" x="104" y="-70" class="s gr"/></g>
<g id="B-AAC38456"><text transform="rotate(-26.6) translate(65 0)">AAC38456.1</text><use href="#c" x="103" y="-58" class="s gr"/></g>
<g id="B-ACE86344"><text transform="rotate(-20.9) translate(67 0)">ACE86344.1</text><use href="#c" x="117" y="-53" class="s gr"/></g>
<g id="B-AAC38457"><text transform="rotate(-19.5) translate(99 0)">AAC38457.1</text><use href="#c" x="137" y="-51" class="s gr"/></g>
<g id="B-ACD60479"><text transform="rotate(-13.7) translate(80 0)">ACD60479.1</text><use href="#c" x="126" y="-34" class="s gr"/></g>
</g>
</g>

<g id="B-support" class="bs">
<text x="225" y="683">98</text><text x="247" y="759">55</text><text x="167" y="629">38</text><text x="103" y="676">100</text>
<text x="140" y="709">98</text><text x="192" y="723">99</text><text x="262" y="808">98</text><text x="371" y="759">98</text>
<text x="373" y="827">95</text><text x="300" y="877">66</text><text x="383" y="869">100</text><text x="348" y="916">86</text>
<text x="328" y="936">84</text><text x="313" y="951">56</text><text x="302" y="970">100</text><text x="286" y="973">26</text>
<text x="390" y="927">100</text><text x="403" y="930">100</text><text x="376" y="941">100</text><text x="225" y="889">95</text>
<text x="202" y="904">99</text><text x="243" y="899">82</text><text x="230" y="908">99</text><text x="182" y="839">98</text>
<text x="147" y="864">100</text><text x="170" y="896">100</text><text x="120" y="875">86</text><text x="88" y="893">100</text>
<text x="168" y="763">74</text><text x="135" y="808">100</text><text x="98" y="798">100</text><text x="87" y="773">84</text>
<text x="86" y="757">82</text><text x="94" y="751">80</text><text x="80" y="743">87</text><text x="62" y="733">100</text>
<text x="143" y="606">95</text><text x="133" y="584">83</text><text x="126" y="599">88</text><text x="123" y="583">100</text>
<text x="157" y="568">86</text><text x="173" y="566">91</text><text x="158" y="548">100</text><text x="210" y="559">100</text>
<text x="251" y="610">98</text><text x="247" y="625">100</text><text x="88" y="646">24</text><text x="90" y="657">63</text>
<text x="99" y="658">57</text><text x="88" y="668">60</text><text x="75" y="687">100</text><text x="78" y="701">99</text>
<text x="452" y="755">100</text><text x="453" y="772">43</text><text x="458" y="790">100</text><text x="454" y="803">67</text>
<text x="450" y="847">100</text><text x="453" y="868">100</text><text x="433" y="904">42</text><text x="418" y="918">62</text>
<text x="625" y="703">100</text>
</g>

<g id="B-scale"><line x1="352" y1="1069" x2="378" y2="1069" stroke="#555" stroke-width=".8"/><text x="365" y="1081" font-size="6" text-anchor="middle">0.5</text></g>
</svg>
